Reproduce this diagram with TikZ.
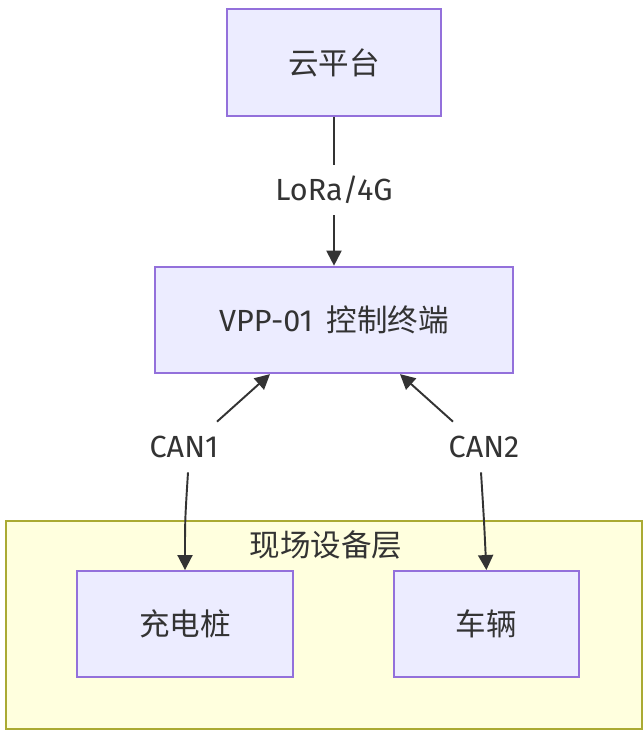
\documentclass[tikz,border=0pt]{standalone}
\usepackage{fontspec}
\setmainfont{Fira Sans}
\newfontfamily\cjk{Noto Sans CJK SC}
\usepackage{xcolor}
\usepackage{tikz}
\usetikzlibrary{arrows.meta, positioning, backgrounds}

\definecolor{nodefill}{HTML}{ECECFF}
\definecolor{nodeline}{HTML}{9370DB}
\definecolor{layerfill}{HTML}{FFFFDE}
\definecolor{layerline}{HTML}{AAAA33}
\definecolor{ink}{HTML}{333333}

\begin{document}
\begin{tikzpicture}[
    x=0.02cm, y=-0.02cm,
    font=\fontsize{17.4}{21}\selectfont,
    box/.style={rectangle, draw=nodeline, fill=nodefill, line width=1.1pt, minimum height=2.13cm, text=ink, align=center},
    layer/.style={rectangle, draw=layerline, fill=layerfill, line width=1.1pt, minimum width=12.72cm, minimum height=4.16cm},
    link/.style={draw=ink, line width=1.1pt, -{Triangle[length=0.3cm, width=0.3cm]}},
    tag/.style={text=ink, inner sep=2pt, minimum height=1cm}
]
\useasboundingbox (0,0) rectangle (643,730);

% field layer behind the devices
\node[layer] (field) at (324,625) {};
\node[text=ink] (fieldtitle) at (326,545) {\cjk 现场设备层};

\node[box, minimum width=4.28cm] (cloud) at (334,62.5) {\cjk 云平台};
\node[box, minimum width=7.16cm, below=2.98cm of cloud] (vpp) {VPP-01\hspace{0.45em}{\cjk 控制终端}};
\node[box, minimum width=4.32cm, minimum height=2.12cm] (pile) at (185,624) {\cjk 充电桩};
\node[box, minimum width=3.7cm, minimum height=2.12cm, right=1.98cm of pile] (car) {\cjk 车辆};

% edge labels
\node[tag] (lora) at (334,190) {LoRa/4G};
\node[tag] (can1) at (184,447) {CAN1};
\node[tag] (can2) at (484,447) {CAN2};

\draw[draw=ink, line width=1.1pt] (cloud) -- (lora);
\draw[link] (lora) -- (vpp);

\draw[link] ([xshift=0.66cm]can1.north) -- ([xshift=-1.28cm]vpp.south);
\draw[link] ([xshift=0.08cm]can1.south) .. controls (185,520) .. (pile.north);

\draw[link] ([xshift=-0.62cm]can2.north) -- ([xshift=1.32cm]vpp.south);
\draw[link] ([xshift=-0.06cm]can2.south) .. controls (484,520) .. (car.north);

\end{tikzpicture}
\end{document}
